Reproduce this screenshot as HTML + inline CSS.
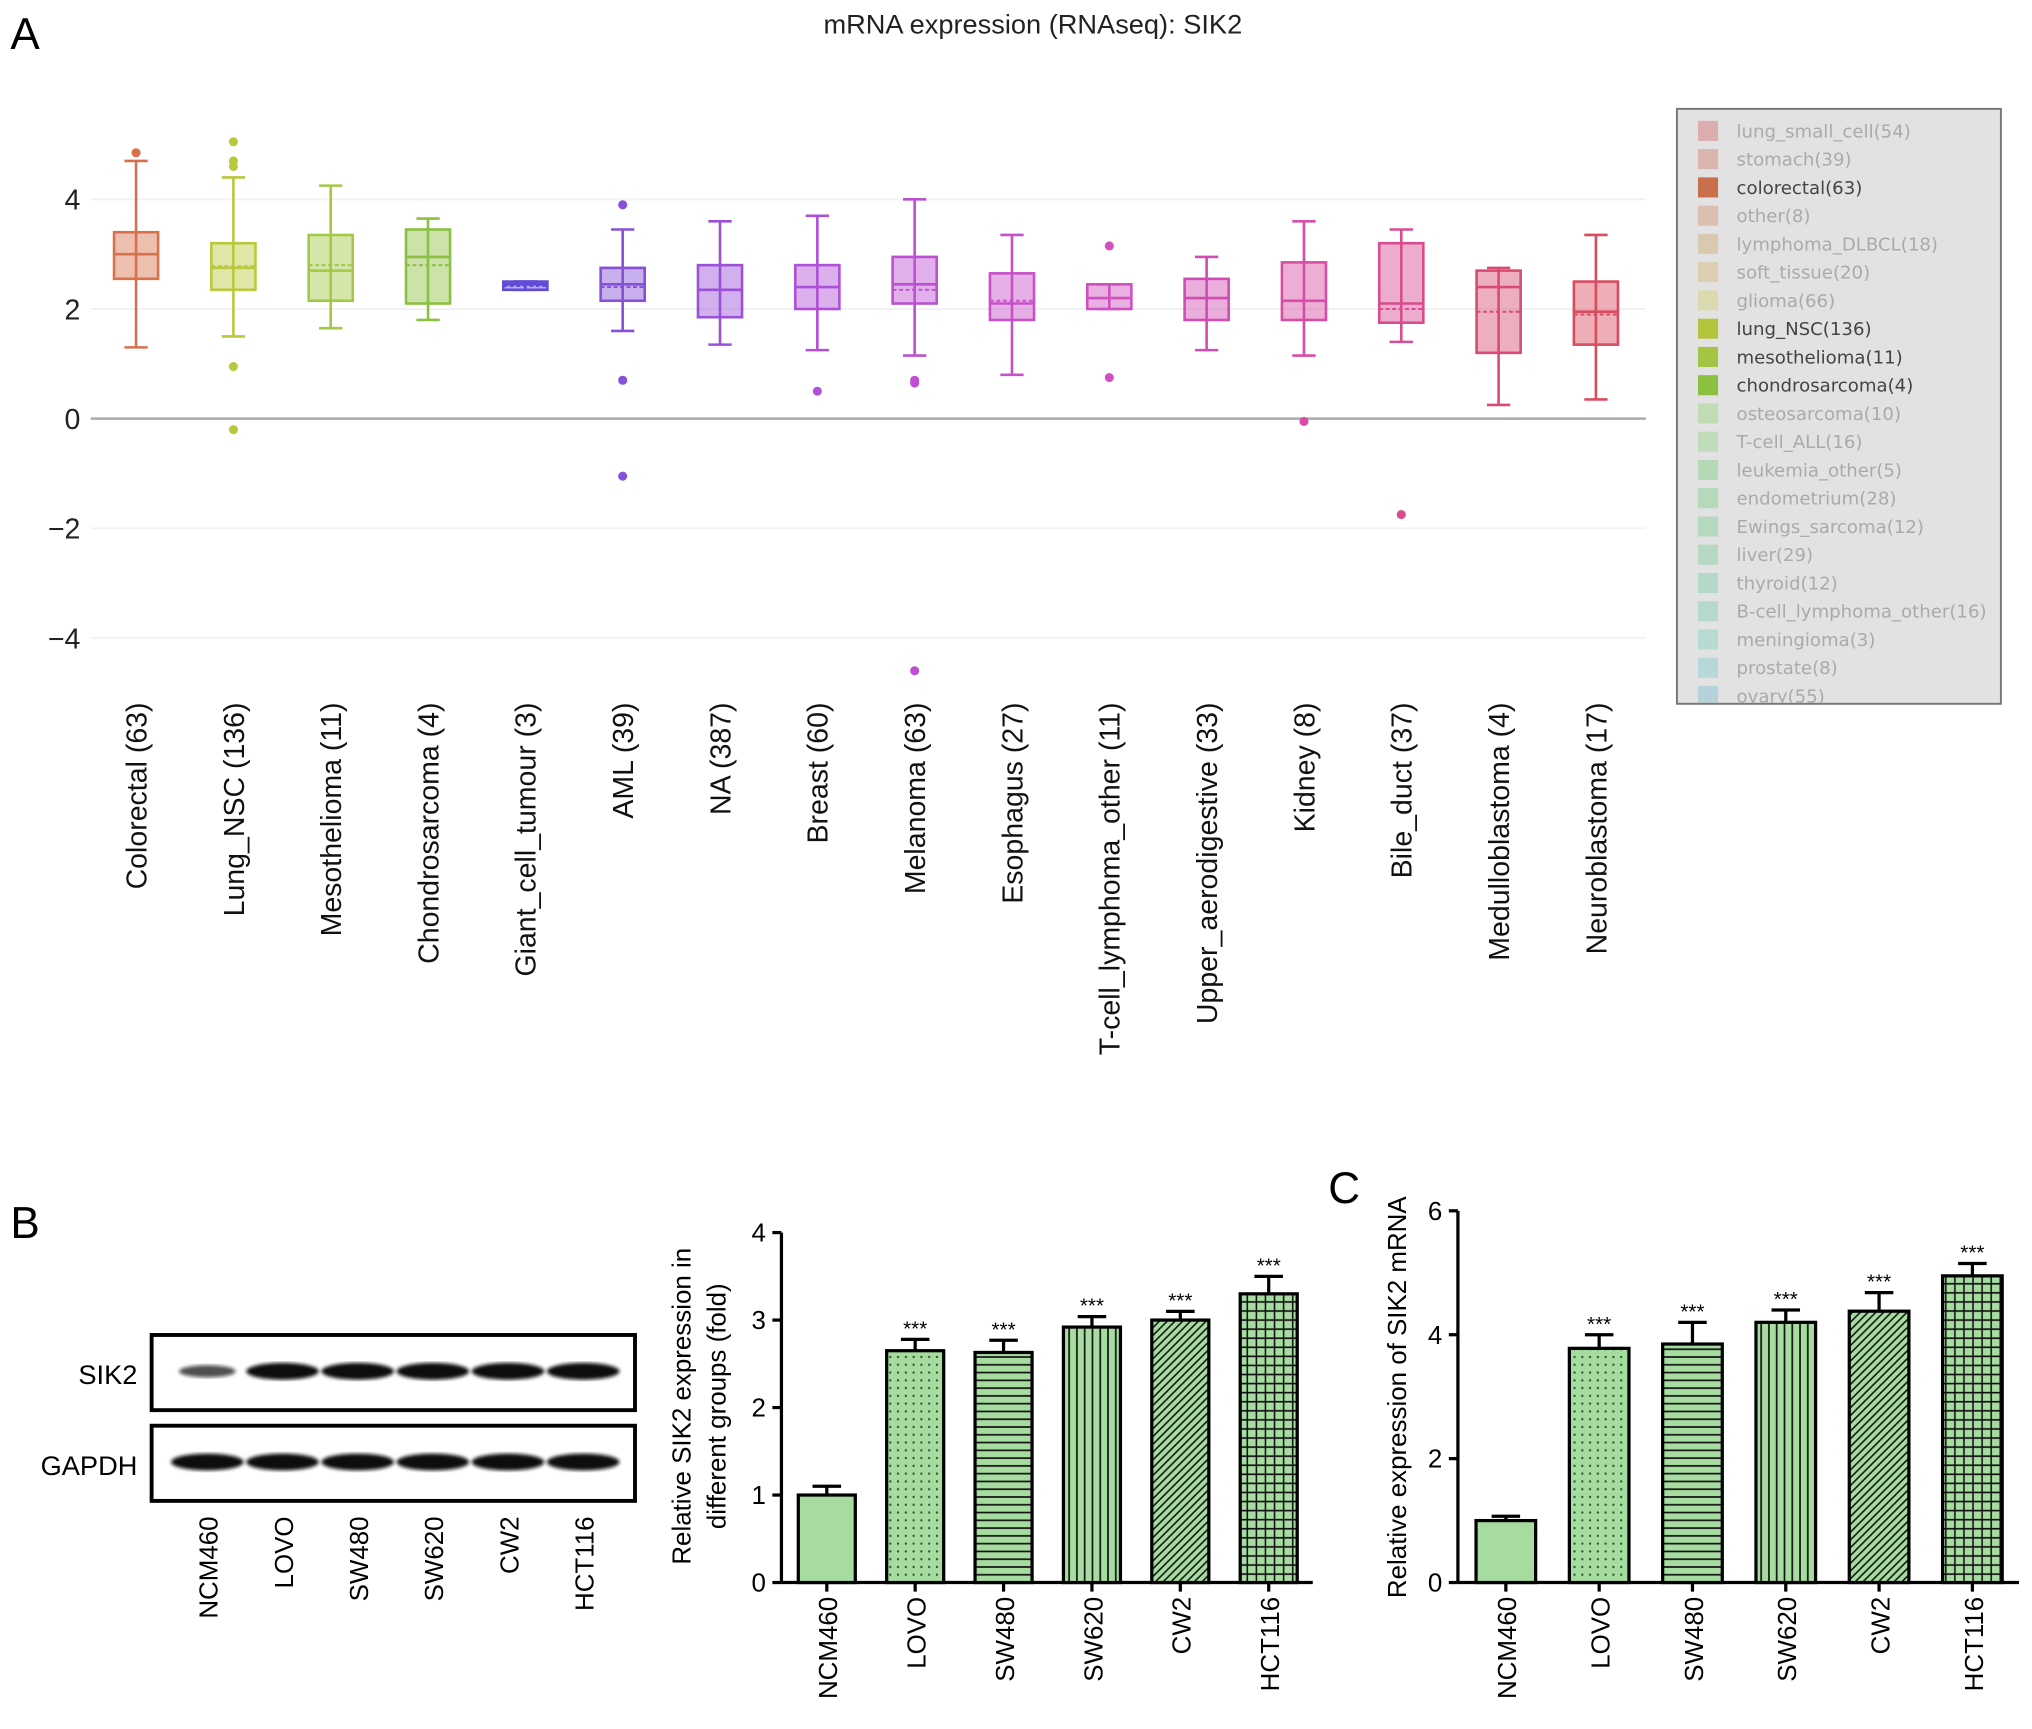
<!DOCTYPE html>
<html><head><meta charset="utf-8"><style>body{margin:0;background:#fff}svg{display:block}</style></head>
<body>
<svg id="fig" width="2032" height="1729" viewBox="0 0 1568 1334" preserveAspectRatio="none" xmlns="http://www.w3.org/2000/svg" font-family="Liberation Sans, Arial, sans-serif">
<defs>
<pattern id="pDots" width="6" height="6" patternUnits="userSpaceOnUse"><rect width="6" height="6" fill="#a6dca0"/><circle cx="3" cy="3" r="0.9" fill="#2a5a2a"/></pattern>
<pattern id="pH" width="6" height="6" patternUnits="userSpaceOnUse"><rect width="6" height="6" fill="#a6dca0"/><line x1="0" y1="3" x2="6" y2="3" stroke="#111" stroke-width="1.3"/></pattern>
<pattern id="pV" width="6" height="6" patternUnits="userSpaceOnUse"><rect width="6" height="6" fill="#a6dca0"/><line x1="3" y1="0" x2="3" y2="6" stroke="#111" stroke-width="1.3"/></pattern>
<pattern id="pD" width="6" height="6" patternUnits="userSpaceOnUse"><rect width="6" height="6" fill="#a6dca0"/><path d="M-1,7 L7,-1 M-4,4 L4,-4 M2,10 L10,2" stroke="#111" stroke-width="1.2"/></pattern>
<pattern id="pG" width="7" height="7" patternUnits="userSpaceOnUse"><rect width="7" height="7" fill="#a6dca0"/><path d="M0,3.5 H7 M3.5,0 V7" stroke="#111" stroke-width="1.2"/></pattern>
<filter id="blur"><feGaussianBlur stdDeviation="1.5"/></filter>
</defs>
<text x="8" y="38" font-size="34">A</text>
<text x="797" y="26" font-size="21" text-anchor="middle" fill="#222">mRNA expression (RNAseq): SIK2</text>
<g id="boxplot"></g>
<g id="legend"></g>
<text x="8" y="955" font-size="34">B</text>
<text x="1025" y="928" font-size="34">C</text>
<g id="blot"></g>
<g id="barB"></g>
<g id="barC"></g>
</svg>
<script>
const NS='http://www.w3.org/2000/svg';
const boxCats=['Colorectal (63)','Lung_NSC (136)','Mesothelioma (11)','Chondrosarcoma (4)','Giant_cell_tumour (3)','AML (39)','NA (387)','Breast (60)','Melanoma (63)','Esophagus (27)','T-cell_lymphoma_other (11)','Upper_aerodigestive (33)','Kidney (8)','Bile_duct (37)','Medulloblastoma (4)','Neuroblastoma (17)'];
const boxLo=[1.3,1.5,1.65,1.8,2.35,1.6,1.35,1.25,1.15,0.8,2.0,1.25,1.15,1.4,0.25,0.35];
const boxQ1=[2.55,2.35,2.15,2.1,2.35,2.15,1.85,2.0,2.1,1.8,2.0,1.8,1.8,1.75,1.2,1.35];
const boxMed=[3.0,2.75,2.7,2.95,2.45,2.45,2.35,2.4,2.45,2.1,2.2,2.2,2.15,2.1,2.4,1.95];
const boxQ3=[3.4,3.2,3.35,3.45,2.5,2.75,2.8,2.8,2.95,2.65,2.45,2.55,2.85,3.2,2.7,2.5];
const boxHi=[4.7,4.4,4.25,3.65,2.5,3.45,3.6,3.7,4.0,3.35,2.45,2.95,3.6,3.45,2.75,3.35];
const boxMean=[3.0,2.78,2.8,2.8,2.42,2.4,2.35,2.4,2.35,2.15,2.2,2.2,2.15,2.0,1.95,1.9];
const boxOut=[[4.85],[5.05,4.7,4.6,0.95,-0.2],[],[],[],[3.9,0.7,-1.05],[],[0.5],[0.7,0.65,-4.6],[],[3.15,0.75],[],[-0.05],[-1.75],[],[]];
const boxColors=['#d8704c','#b9c83c','#a2c844','#8cc040','#6048d8','#8650d8','#9a50d8','#b050d8','#bc4fd2','#c850c8','#d050c0','#d04cb4','#d84ca4','#d84c90','#d84c74','#d84c60'];
const yTicksA=[4,2,0,-2,-4];
const legendNames=['lung_small_cell(54)','stomach(39)','colorectal(63)','other(8)','lymphoma_DLBCL(18)','soft_tissue(20)','glioma(66)','lung_NSC(136)','mesothelioma(11)','chondrosarcoma(4)','osteosarcoma(10)','T-cell_ALL(16)','leukemia_other(5)','endometrium(28)','Ewings_sarcoma(12)','liver(29)','thyroid(12)','B-cell_lymphoma_other(16)','meningioma(3)','prostate(8)','ovary(55)'];
const legendActive=[0,0,1,0,0,0,0,1,1,1,0,0,0,0,0,0,0,0,0,0,0];
const legendColors=['#d88a8a','#d89a90','#c8704c','#d8a890','#d8b890','#d8c490','#d8d490','#b4c43c','#a4c444','#8cc040','#b0d898','#a8d8a0','#98d49c','#98d4a0','#98d4a8','#98d4b0','#98d4b8','#98d4c4','#98d8c8','#98d4d4','#98c8d8'];
const blotLanes=['NCM460','LOVO','SW480','SW620','CW2','HCT116'];
const blotSik2=[0.45,1,1,1,1,1];
const barCats=['NCM460','LOVO','SW480','SW620','CW2','HCT116'];
const barBVals=[1.0,2.65,2.63,2.92,3.0,3.3];
const barBErr=[0.1,0.13,0.14,0.12,0.1,0.2];
const barBTicks=[0,1,2,3,4];
const barCVals=[1.0,3.78,3.85,4.2,4.38,4.95];
const barCErr=[0.07,0.22,0.35,0.2,0.3,0.2];
const barCTicks=[0,2,4,6];
const barSig=['','***','***','***','***','***'];
const barFills=['#a6dca0','url(#pDots)','url(#pH)','url(#pV)','url(#pD)','url(#pG)'];

function mk(tag,attrs,parent,txt){const e=document.createElementNS(NS,tag);for(const k in attrs)e.setAttribute(k,attrs[k]);if(txt!==undefined)e.textContent=txt;parent.appendChild(e);return e;}

const gA=document.getElementById('boxplot');
const yA=v=>323-v*42.3;
const xA=i=>105+i*75.1;
yTicksA.forEach(t=>{
  const l=mk('line',{x1:70,x2:1270,y1:yA(t),y2:yA(t),stroke:t===0?'#aaa':'#f2f2f2','stroke-width':t===0?2:1.5},gA);
  
  
  const tx=mk('text',{x:62,y:yA(t)+8,'font-size':22,'text-anchor':'end',fill:'#222'},gA,t<0?'\u2212'+(-t):String(t));
  
  
});
boxCats.forEach((c,i)=>{
  const x=xA(i),col=boxColors[i],w=34;
  const g=mk('g',{},gA);
  
  
  mk('line',{x1:x,x2:x,y1:yA(boxHi[i]),y2:yA(boxLo[i]),stroke:col,'stroke-width':2},g);
  mk('line',{x1:x-9,x2:x+9,y1:yA(boxHi[i]),y2:yA(boxHi[i]),stroke:col,'stroke-width':2},g);
  mk('line',{x1:x-9,x2:x+9,y1:yA(boxLo[i]),y2:yA(boxLo[i]),stroke:col,'stroke-width':2},g);
  mk('rect',{x:x-w/2,y:yA(boxQ3[i]),width:w,height:Math.max(2,yA(boxQ1[i])-yA(boxQ3[i])),fill:col,'fill-opacity':0.45,stroke:col,'stroke-width':2},g);
  mk('line',{x1:x-w/2,x2:x+w/2,y1:yA(boxMed[i]),y2:yA(boxMed[i]),stroke:col,'stroke-width':2},g);
  mk('line',{x1:x-w/2,x2:x+w/2,y1:yA(boxMean[i]),y2:yA(boxMean[i]),stroke:col,'stroke-width':1.5,'stroke-dasharray':'3,2'},g);
  boxOut[i].forEach(o=>{
    const d=mk('circle',{cx:x,cy:yA(o),r:3.5,fill:col},g);
    
    
  });
  const t=mk('text',{transform:`translate(${x+8},542) rotate(-90)`,'font-size':22,'text-anchor':'end',fill:'#111'},gA,c);
  
  
});
const gL=document.getElementById('legend');
mk('rect',{x:1294,y:84,width:250,height:459,fill:'#e2e2e2',stroke:'#777','stroke-width':1.5},gL);
mk('clipPath',{id:'lc'},gL).appendChild(document.createElementNS(NS,'rect'));
const cr=gL.querySelector('#lc rect');cr.setAttribute('x',1295);cr.setAttribute('y',85);cr.setAttribute('width',248);cr.setAttribute('height',457);
const gLi=mk('g',{'clip-path':'url(#lc)'},gL);
legendNames.forEach((n,i)=>{
  const y=101+i*21.8;
  const g=mk('g',{},gLi);
  
  
  mk('rect',{x:1311,y:y-7,width:14,height:14,fill:legendColors[i],stroke:legendColors[i],'stroke-width':1.5,opacity:legendActive[i]?1:0.6},g);
  mk('text',{x:1340,y:y+5,'font-size':14,fill:legendActive[i]?'#444':'#aaa','font-family':'DejaVu Sans, sans-serif'},g,n);
});
const gB=document.getElementById('blot');
[[1030,'SIK2',blotSik2],[1100,'GAPDH',[1,1,1,1,1,1]]].forEach(([y0,lab,vals])=>{
  mk('rect',{x:117,y:y0,width:373,height:58,fill:'#fff',stroke:'#000','stroke-width':3},gB);
  const t=mk('text',{x:106,y:y0+38,'font-size':21,'text-anchor':'end'},gB,lab);
  
  
  vals.forEach((v,i)=>{
    const cx=160+i*58;
    const b=mk('ellipse',{cx:cx,cy:y0+28,rx:28*(0.6+0.4*v),ry:6.5*(0.5+0.5*v),fill:'#111',opacity:0.5+0.5*v,filter:'url(#blur)'},gB);
    
    
  });
});
blotLanes.forEach((n,i)=>{
  const t=mk('text',{transform:`translate(${168+i*58},1170) rotate(-90)`,'font-size':20,'text-anchor':'end'},gB,n);
  
  
});
function bars(gid,vals,errs,ticks,x0,x1,y0,ppu,x0bar,step,bw,ylab){
  const g=document.getElementById(gid);
  const y=v=>y0-v*ppu;
  const top=ticks[ticks.length-1];
  mk('line',{x1:x0,x2:x0,y1:y(top),y2:y0,stroke:'#000','stroke-width':2.5},g);
  mk('line',{x1:x0,x2:x1,y1:y0,y2:y0,stroke:'#000','stroke-width':2.5},g);
  ticks.forEach(t=>{
    mk('line',{x1:x0-7,x2:x0,y1:y(t),y2:y(t),stroke:'#000','stroke-width':2.5},g);
    const tx=mk('text',{x:x0-12,y:y(t)+7,'font-size':20,'text-anchor':'end'},g,String(t));
    
    
  });
  vals.forEach((v,i)=>{
    const cx=x0bar+i*step;
    const r=mk('rect',{x:cx-bw/2,y:y(v),width:bw,height:y0-y(v),fill:barFills[i],stroke:'#000','stroke-width':2.5},g);
    
    
    mk('line',{x1:cx,x2:cx,y1:y(v),y2:y(v+errs[i]),stroke:'#000','stroke-width':2.5},g);
    mk('line',{x1:cx-11,x2:cx+11,y1:y(v+errs[i]),y2:y(v+errs[i]),stroke:'#000','stroke-width':2.5},g);
    mk('line',{x1:cx,x2:cx,y1:y0,y2:y0+7,stroke:'#000','stroke-width':2.5},g);
    if(barSig[i]){const s=mk('text',{x:cx,y:y(v+errs[i])-3,'font-size':16,'text-anchor':'middle'},g,barSig[i]);
      
      }
    const t=mk('text',{transform:`translate(${cx+8},1232) rotate(-90)`,'font-size':20,'text-anchor':'end'},g,barCats[i]);
    
    
  });
  ylab.forEach((l,k)=>{
    const t=mk('text',{transform:`translate(${l[0]},${l[1]}) rotate(-90)`,'font-size':20,'text-anchor':'middle'},g,l[2]);
    
    
  });
}
bars('barB',barBVals,barBErr,barBTicks,603,1013,1221,67.5,638,68.2,44,[[533,1085,'Relative SIK2 expression in'],[560,1085,'different groups (fold)']]);
bars('barC',barCVals,barCErr,barCTicks,1125,1558,1221,47.8,1162,72,46,[[1085,1078,'Relative expression of SIK2 mRNA']]);
</script>
</body></html>
